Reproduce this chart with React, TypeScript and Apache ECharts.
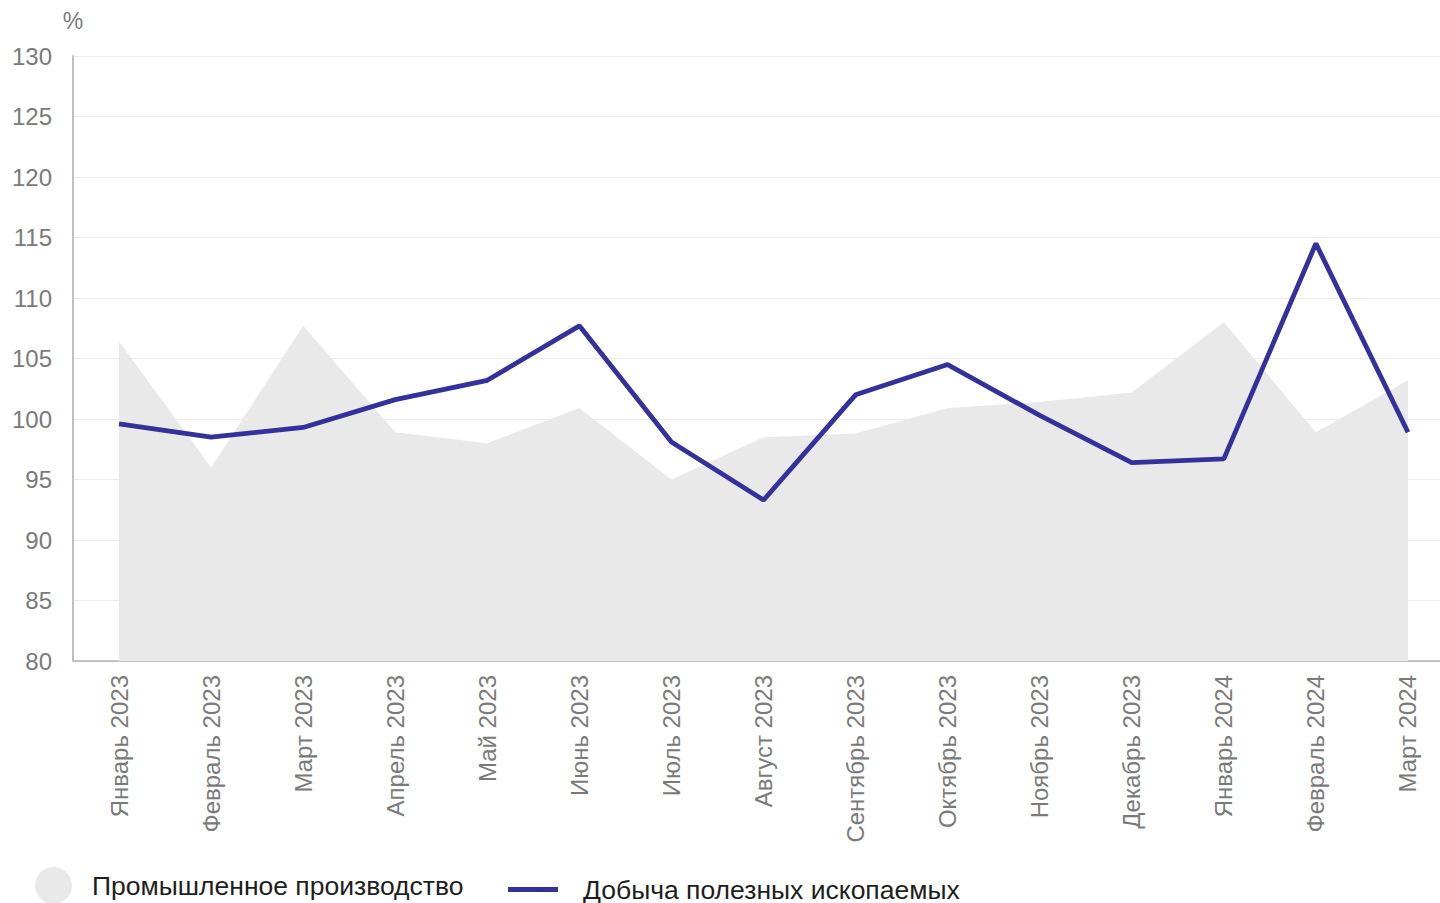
import React, { useEffect, useRef } from "react";
import * as echarts from "echarts";

const categories = [
  "Январь 2023",
  "Февраль 2023",
  "Март 2023",
  "Апрель 2023",
  "Май 2023",
  "Июнь 2023",
  "Июль 2023",
  "Август 2023",
  "Сентябрь 2023",
  "Октябрь 2023",
  "Ноябрь 2023",
  "Декабрь 2023",
  "Январь 2024",
  "Февраль 2024",
  "Март 2024",
];

const industrialProduction = [
  106.4, 96.0, 107.7, 98.9, 98.0, 100.9, 95.0, 98.5, 98.8, 100.9, 101.4, 102.2,
  108.0, 98.9, 103.2,
];

const mining = [
  99.6, 98.5, 99.3, 101.6, 103.2, 107.7, 98.1, 93.3, 102.0, 104.5, 100.3, 96.4,
  96.7, 114.5, 98.9,
];

const seriesNames = ["Промышленное производство", "Добыча полезных ископаемых"];

export default function App() {
  const ref = useRef<HTMLDivElement>(null);

  useEffect(() => {
    if (!ref.current) return;
    const chart = echarts.init(ref.current, null, { renderer: "svg" });
    const font = "'Liberation Sans', Arial, sans-serif";
    chart.setOption({
      animation: false,
      backgroundColor: "#ffffff",
      textStyle: { fontFamily: font },
      grid: { left: 73, right: 0, top: 56, bottom: 242, containLabel: false },
      legend: [
        {
          data: [seriesNames[0]],
          left: 35,
          top: 867,
          padding: 0,
          icon: "circle",
          itemWidth: 37,
          itemHeight: 37,
          textStyle: {
            fontFamily: font,
            fontSize: 26.5,
            color: "#1e1e1e",
            padding: [0, 0, 0, 15],
          },
        },
        {
          data: [seriesNames[1]],
          left: 508,
          top: 876,
          padding: 0,
          icon: "rect",
          itemWidth: 50,
          itemHeight: 5,
          textStyle: {
            fontFamily: font,
            fontSize: 26.5,
            color: "#1e1e1e",
            padding: [0, 0, 0, 20],
          },
        },
      ],
      xAxis: {
        type: "category",
        data: categories,
        boundaryGap: true,
        axisLine: { show: true, lineStyle: { color: "#c0c0c0", width: 2 } },
        axisTick: { show: false },
        axisLabel: {
          rotate: 90,
          margin: 14,
          color: "#7a7a7a",
          fontSize: 24,
          fontFamily: font,
          interval: 0,
        },
        splitLine: { show: false },
      },
      yAxis: {
        type: "value",
        min: 80,
        max: 130,
        interval: 5,
        name: "%",
        nameLocation: "end",
        nameGap: 24,
        nameTextStyle: { color: "#7a7a7a", fontSize: 23, fontFamily: font, align: "center" },
        axisLine: { show: true, lineStyle: { color: "#c0c0c0", width: 2 } },
        axisTick: { show: false },
        axisLabel: { color: "#7a7a7a", fontSize: 24, margin: 21, fontFamily: font },
        splitLine: { show: true, lineStyle: { color: "#ececec", width: 1 } },
      },
      series: [
        {
          name: seriesNames[0],
          type: "line",
          data: industrialProduction,
          symbol: "none",
          color: "#e9e9e9",
          lineStyle: { width: 0, opacity: 0 },
          areaStyle: { color: "#e9e9e9", opacity: 1 },
          itemStyle: { color: "#e9e9e9" },
          z: 1,
        },
        {
          name: seriesNames[1],
          type: "line",
          data: mining,
          symbol: "none",
          color: "#35319a",
          lineStyle: { width: 4.8, color: "#35319a" },
          itemStyle: { color: "#35319a" },
          z: 3,
        },
      ],
    });
    return () => chart.dispose();
  }, []);

  return (
    <div
      style={{
        position: "absolute",
        left: 0,
        top: 0,
        width: 1440,
        height: 903,
        overflow: "hidden",
        background: "#fff",
      }}
    >
      <div ref={ref} style={{ width: 1454, height: 903 }} />
    </div>
  );
}
